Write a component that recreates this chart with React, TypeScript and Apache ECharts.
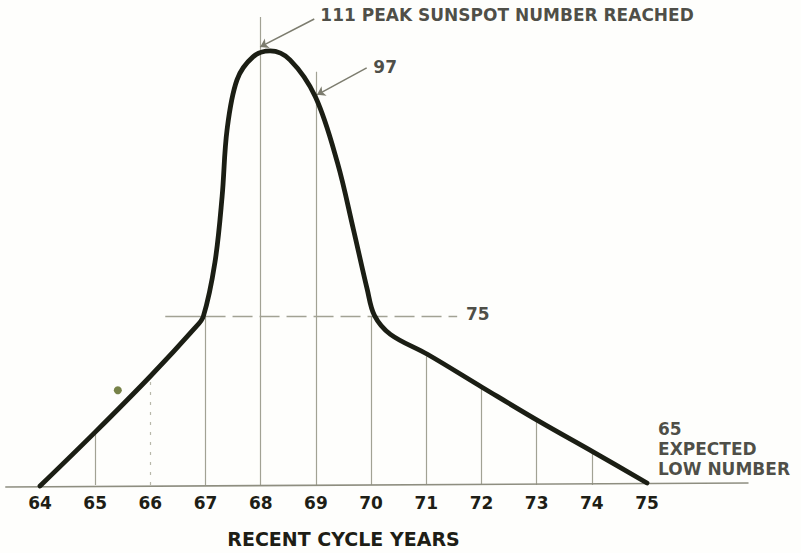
import React, { useEffect, useRef } from "react";
import * as echarts from "echarts";

// Sunspot cycle schematic, heights in drawing units above the baseline (65 = expected low)
const curveYears = [64, 65, 66, 66.8, 66.96, 67.17, 67.3, 67.39, 67.57, 67.86, 68.17, 68.53, 68.99, 69.39, 69.68, 69.93, 70.06, 70.35, 71.02, 72.01, 73.04, 74.03, 75];
const curveHeights = [-1, 53, 109, 157, 169, 223, 289, 356, 406, 429, 435, 426, 389, 323, 256, 196, 170, 151, 131, 98, 64, 33, 2];

const gridYears = [65, 66, 67, 68, 69, 70, 71, 72, 73, 74];
const gridTops = [53, 109, 168, 469, 414, 169, 129, 98, 64, 33];

const level75Height = 169;
const level75Span = [66.27, 67, 71.56];

const baselineYears = [63.37, 76.84];
const baselineHeights = [-2, 2];

const arrowFrom = [[68.97, 467], [69.92, 418]];
const arrowTo = [[67.99, 439], [69.02, 391]];

const dotPoint = [65.41, 95];

const annotationTexts = ["111 PEAK SUNSPOT NUMBER REACHED", "97", "75", "65\nEXPECTED\nLOW NUMBER"];
const annotationX = [69.08, 70.04, 71.72, 75.2];
const annotationY = [471, 419, 171, 36];

const FONT = "'DejaVu Sans', 'Liberation Sans', sans-serif";
const INK = "#1e1e16";
const GRID = "#a2a294";

export default function App() {
  const ref = useRef<HTMLDivElement>(null);
  useEffect(() => {
    document.body.style.margin = "0";
    const chart = echarts.init(ref.current as HTMLDivElement, null, { renderer: "svg" });
    const option: any = {
      animation: false,
      backgroundColor: "#fefefc",
      grid: { left: 40, right: 154, top: 0, bottom: 67 },
      xAxis: {
        type: "value",
        min: 64,
        max: 75,
        interval: 1,
        axisLine: { show: false },
        axisTick: { show: false },
        splitLine: { show: false },
        axisLabel: { fontFamily: FONT, fontWeight: "bold", fontSize: 17, color: INK, margin: 9 },
        name: "RECENT CYCLE YEARS",
        nameLocation: "middle",
        nameGap: 44,
        nameTextStyle: { fontFamily: FONT, fontWeight: "bold", fontSize: 19, color: INK },
      },
      yAxis: { type: "value", min: 0, max: 486, show: false },
      series: [
        {
          type: "lines",
          coordinateSystem: "cartesian2d",
          clip: false,
          silent: true,
          lineStyle: { color: GRID, width: 1.2, opacity: 1 },
          data: gridYears.map((y, i) => ({
            coords: [[y, 0], [y, gridTops[i]]],
            lineStyle: y === 66 ? { type: [3, 7], color: "#b8b8aa" } : undefined,
          })),
        },
        {
          type: "lines",
          coordinateSystem: "cartesian2d",
          clip: false,
          silent: true,
          lineStyle: { color: GRID, width: 1.3, opacity: 1 },
          data: [
            { coords: [[level75Span[0], level75Height], [level75Span[1], level75Height]] },
            { coords: [[level75Span[1], level75Height], [level75Span[2], level75Height]], lineStyle: { type: [20, 7] } },
          ],
        },
        {
          type: "lines",
          coordinateSystem: "cartesian2d",
          clip: false,
          silent: true,
          lineStyle: { color: "#8e8e80", width: 1.6, opacity: 1 },
          data: [{ coords: [[baselineYears[0], baselineHeights[0]], [baselineYears[1], baselineHeights[1]]] }],
        },
        {
          type: "line",
          clip: false,
          smooth: 0.35,
          showSymbol: false,
          silent: true,
          lineStyle: { color: "#1b1e14", width: 4.8, cap: "round", join: "round" },
          data: curveYears.map((y, i) => [y, curveHeights[i]]),
        },
        {
          type: "lines",
          coordinateSystem: "cartesian2d",
          clip: false,
          silent: true,
          symbol: ["none", "arrow"],
          symbolSize: 8,
          lineStyle: { color: "#7c7c6e", width: 1.5, opacity: 1 },
          data: arrowFrom.map((f, i) => ({ coords: [f, arrowTo[i]] })),
        },
        {
          type: "scatter",
          clip: false,
          silent: true,
          symbolSize: 8,
          itemStyle: { color: "#55631a" },
          data: [dotPoint],
        },
        {
          type: "scatter",
          clip: false,
          silent: true,
          symbolSize: 0,
          itemStyle: { color: "rgba(0,0,0,0)" },
          label: {
            show: true,
            position: [0, 0],
            align: "left",
            verticalAlign: "middle",
            fontFamily: FONT,
            fontWeight: "bold",
            fontSize: 17,
            lineHeight: 20,
            color: INK,
            formatter: (p: any) => annotationTexts[p.dataIndex],
          },
          data: annotationX.map((x, i) => [x, annotationY[i]]),
        },
      ],
    };
    chart.setOption(option);
    return () => chart.dispose();
  }, []);
  return <div ref={ref} style={{ width: 801, height: 553, overflow: "hidden" }} />;
}
